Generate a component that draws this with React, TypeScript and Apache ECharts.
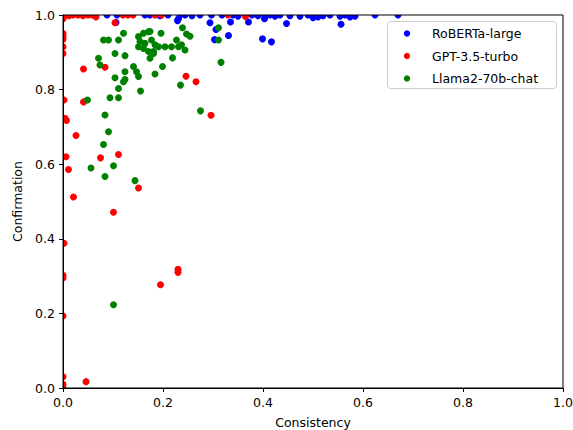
import React, { useEffect, useRef } from "react";
import * as echarts from "echarts";

const seriesNames = ["RoBERTa-large", "GPT-3.5-turbo", "Llama2-70b-chat"];
const seriesColors = ["#0000ff", "#ff0000", "#008000"];

const robertaPoints: [number, number][] = [
  [0.088, 1.0], [0.106, 0.98], [0.108, 1.0], [0.164, 1.0], [0.174, 1.0], [0.194, 0.998],
  [0.21, 1.0], [0.229, 0.985], [0.231, 0.99], [0.234, 1.0], [0.244, 1.0], [0.258, 0.998],
  [0.274, 1.0], [0.294, 0.979], [0.297, 1.0], [0.303, 0.934], [0.306, 0.961], [0.318, 1.0],
  [0.331, 0.945], [0.335, 0.981], [0.34, 1.0], [0.35, 0.997], [0.364, 1.0], [0.371, 0.981],
  [0.378, 1.0], [0.39, 0.998], [0.399, 0.936], [0.403, 0.99], [0.404, 0.995], [0.414, 1.0],
  [0.417, 0.928], [0.424, 0.997], [0.434, 1.0], [0.447, 0.977], [0.454, 0.998], [0.474, 0.997],
  [0.49, 1.0], [0.5, 0.993], [0.51, 0.995], [0.52, 0.998], [0.534, 1.0], [0.554, 0.997],
  [0.556, 0.975], [0.564, 1.0], [0.574, 0.995], [0.584, 0.997], [0.624, 1.0], [0.67, 1.0],
];

const gptPoints: [number, number][] = [
  [0, 1.0], [0, 0.99], [0, 0.95], [0, 0.942], [0, 0.935], [0, 0.915], [0, 0.897],
  [0.002, 0.772], [0.004, 0.723], [0.007, 0.717], [0.006, 0.62], [0.011, 0.586],
  [0.002, 0.388], [0, 0.302], [0, 0.295], [0, 0.193], [0, 0.03], [0, 0.01], [0, 0],
  [0.005, 1.0], [0.012, 0.998], [0.02, 1.0], [0.03, 1.0], [0.04, 0.998], [0.05, 1.0],
  [0.058, 1.0], [0.066, 0.995], [0.104, 0.979], [0.12, 1.0], [0.13, 1.0], [0.14, 1.0],
  [0.184, 1.0], [0.197, 1.0], [0.33, 1.0], [0.365, 0.996],
  [0.041, 0.855], [0.084, 0.86], [0.041, 0.767], [0.026, 0.677], [0.075, 0.617],
  [0.111, 0.626], [0.021, 0.512], [0.101, 0.471], [0.151, 0.536], [0.246, 0.836],
  [0.266, 0.821], [0.296, 0.731], [0.23, 0.318], [0.23, 0.31], [0.195, 0.277], [0.046, 0.017],
];

const llamaPoints: [number, number][] = [
  [0.121, 0.951], [0.081, 0.933], [0.091, 0.933], [0.111, 0.933], [0.151, 0.942],
  [0.161, 0.951], [0.171, 0.955], [0.174, 0.956], [0.196, 0.951], [0.154, 0.929],
  [0.164, 0.924], [0.177, 0.933], [0.184, 0.92], [0.151, 0.915], [0.161, 0.91],
  [0.171, 0.902], [0.181, 0.902], [0.191, 0.915], [0.204, 0.915], [0.217, 0.915],
  [0.227, 0.933], [0.231, 0.915], [0.237, 0.92], [0.244, 0.906], [0.239, 0.966],
  [0.247, 0.949], [0.254, 0.943], [0.311, 0.966], [0.311, 0.933], [0.316, 0.873],
  [0.104, 0.897], [0.124, 0.891], [0.174, 0.884], [0.181, 0.897], [0.219, 0.885],
  [0.071, 0.884], [0.074, 0.866], [0.141, 0.862], [0.199, 0.862], [0.124, 0.848],
  [0.147, 0.848], [0.104, 0.832], [0.151, 0.835], [0.184, 0.842], [0.121, 0.821],
  [0.124, 0.827], [0.111, 0.803], [0.235, 0.812], [0.155, 0.796], [0.049, 0.772],
  [0.094, 0.778], [0.111, 0.778], [0.084, 0.732], [0.275, 0.743], [0.091, 0.687],
  [0.081, 0.653], [0.101, 0.596], [0.056, 0.59], [0.084, 0.567], [0.144, 0.556],
  [0.101, 0.223],
];

const allPoints = [robertaPoints, gptPoints, llamaPoints];

const FONT = "DejaVu Sans";

export default function App() {
  const ref = useRef<HTMLDivElement>(null);
  useEffect(() => {
    if (!ref.current) return;
    document.body.style.margin = "0";
    const chart = echarts.init(ref.current, null, { renderer: "svg" });
    const legendLeft = 387;
    const legendTop = 21;
    const rowGap = 22.5;
    const legendGraphics: any[] = [
      {
        type: "rect",
        shape: { x: legendLeft + 0.5, y: legendTop + 0.5, width: 169, height: 67, r: 3 },
        style: { fill: "rgba(255,255,255,0.8)", stroke: "#cccccc", lineWidth: 1 },
        z: 100,
      },
    ];
    seriesNames.forEach((name, i) => {
      legendGraphics.push({
        type: "circle",
        shape: { cx: 407, cy: legendTop + 12.5 + i * rowGap, r: 3.2 },
        style: { fill: seriesColors[i] },
        z: 101,
      });
      legendGraphics.push({
        type: "text",
        x: 432,
        y: legendTop + 12.5 + i * rowGap,
        style: {
          text: name,
          fill: "#000",
          font: `12.5px "${FONT}"`,
          verticalAlign: "middle",
        },
        z: 101,
      });
    });

    chart.setOption({
      animation: false,
      backgroundColor: "#fff",
      grid: {
        left: 63,
        top: 15,
        width: 500,
        height: 373,
        show: true,
        borderColor: "#000",
        borderWidth: 1,
        backgroundColor: "transparent",
        containLabel: false,
        outerBoundsMode: "none",
        z: 10,
      },
      xAxis: {
        type: "value",
        min: 0,
        max: 1,
        interval: 0.2,
        name: "Consistency",
        nameLocation: "middle",
        nameGap: 28,
        nameTextStyle: { fontFamily: FONT, fontSize: 12.5, color: "#000" },
        axisLine: { show: true, onZero: false, lineStyle: { color: "#000", width: 1 } },
        axisTick: { show: true, inside: false, length: 4, lineStyle: { color: "#000" } },
        axisLabel: {
          fontFamily: FONT,
          fontSize: 12.5,
          color: "#000",
          margin: 8,
          formatter: (v: number) => v.toFixed(1),
        },
        splitLine: { show: false },
        z: 10,
      },
      yAxis: {
        type: "value",
        min: 0,
        max: 1,
        interval: 0.2,
        name: "Confirmation",
        nameLocation: "middle",
        nameGap: 39,
        nameTextStyle: { fontFamily: FONT, fontSize: 12.5, color: "#000" },
        axisLine: { show: true, onZero: false, lineStyle: { color: "#000", width: 1 } },
        axisTick: { show: true, inside: false, length: 4, lineStyle: { color: "#000" } },
        axisLabel: {
          fontFamily: FONT,
          fontSize: 12.5,
          color: "#000",
          margin: 8,
          formatter: (v: number) => v.toFixed(1),
        },
        splitLine: { show: false },
        z: 10,
      },
      series: allPoints.map((pts, i) => ({
        name: seriesNames[i],
        type: "custom",
        data: pts,
        clip: true,
        z: 2 + i,
        renderItem: (params: any, api: any) => {
          const p = api.coord([api.value(0), api.value(1)]);
          return {
            type: "circle",
            shape: { cx: p[0], cy: p[1], r: 3.5 },
            style: { fill: seriesColors[i] },
          };
        },
      })),
      graphic: legendGraphics,
    });
    return () => chart.dispose();
  }, []);
  return <div ref={ref} style={{ width: 573, height: 430 }} />;
}
